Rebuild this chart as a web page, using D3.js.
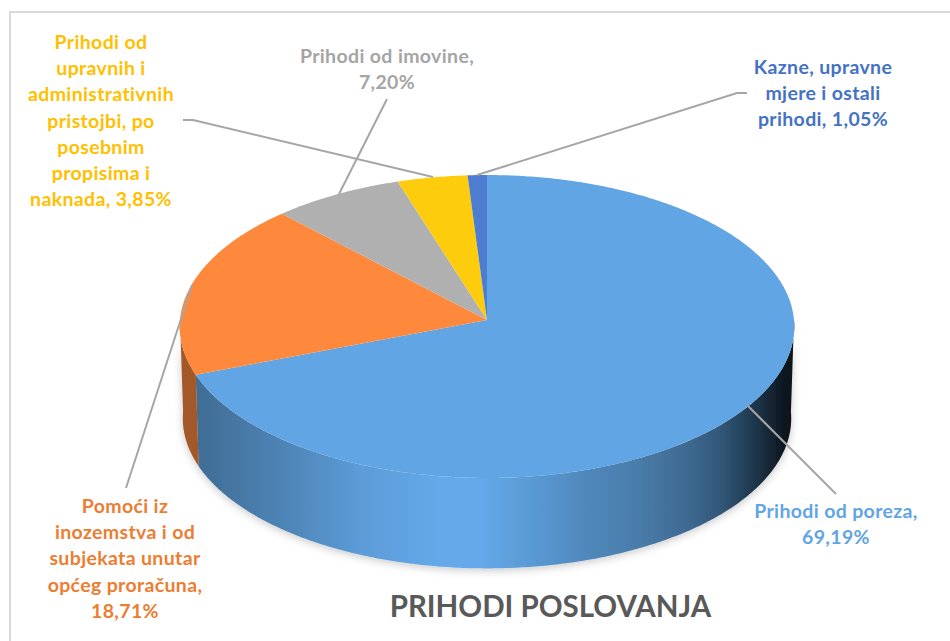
<!DOCTYPE html>
<html>
<head>
<meta charset="utf-8">
<script src="https://cdn.jsdelivr.net/npm/d3@7"></script>
<style>
html, body { margin: 0; padding: 0; background: #fff; }
svg { display: block; }
text { font-family: Lato, "Open Sans", sans-serif; font-weight: 700; }
</style>
</head>
<body>
<div id="chart"></div>
<script>
const wd = 950
const ht = 641

// the data
const categories = ["Prihodi od poreza", "Pomoći iz inozemstva i od subjekata unutar općeg proračuna", "Prihodi od imovine", "Prihodi od upravnih i administrativnih pristojbi, po posebnim propisima i naknada", "Kazne, upravne mjere i ostali prihodi"]
const values = [69.19, 18.71, 7.20, 3.85, 1.05]
const valueLabels = ["69,19%", "18,71%", "7,20%", "3,85%", "1,05%"]
const colours = ["#62a5e4", "#fe893c", "#b0b0b0", "#fdcc0d", "#4d7dd0"]
const labelColours = ["#62a5e4", "#ed7d31", "#a5a5a5", "#ffc000", "#4472c4"]
const titleText = "PRIHODI POSLOVANJA"

// label lines, wrapped by hand like in the picture
const labelLines = [
    ["Prihodi od poreza,", "69,19%"],
    ["Pomoći iz", "inozemstva i od", "subjekata unutar", "općeg proračuna,", "18,71%"],
    ["Prihodi od imovine,", "7,20%"],
    ["Prihodi od", "upravnih i", "administrativnih", "pristojbi, po", "posebnim", "propisima i", "naknada, 3,85%"],
    ["Kazne, upravne", "mjere i ostali", "prihodi, 1,05%"]
]
const labelCentres = [[836, 518], [125, 513], [387, 63], [101, 49], [823, 74]]
const leaders = [
    [[748, 406], [836, 494]],
    [[192, 285], [126, 488]],
    [[387, 99], [339, 194]],
    [[183, 120], [193, 120], [433, 177]],
    [[747, 93], [737, 93], [477, 175]]
]

const lineHt = 26.2

const svg = d3.select("#chart").append("svg")
    .attr("width", wd)
    .attr("height", ht)

const defs = svg.append("defs")

// frame of the picture, only top and left show
svg.append("path")
    .attr("d", d3.line()([[10, ht], [10, 12], [wd, 12]]))
    .attr("fill", "none")
    .attr("stroke", "#d9d9d9")
    .attr("stroke-width", 2)

// pie in perspective. c is the depth, +1 at the front
const cx = 487
const cy = 320
const rx = 307
const ryB = 151.2
const k = -0.0429
const depth = 92

function project(a, drop, shrink) {
    const s = Math.sin(a)
    const c = -Math.cos(a)
    const w = 1 + k * c
    return [cx + shrink * rx * s / w, cy + drop + shrink * ryB * c / w]
}

function arcPoints(a0, a1, drop, shrink) {
    const n = Math.max(2, Math.ceil(Math.abs(a1 - a0) / 0.01))
    return d3.range(n + 1).map(i => project(a0 + (a1 - a0) * i / n, drop, shrink))
}

const line = d3.line()

const slices = d3.pie().sort(null).value(d => d)(values)

// side gradient, left to right across the pie
const sideStops = [
    [195, "#3f6c93"], [300, "#5189bd"], [360, "#5b9bd7"], [440, "#65a9ea"],
    [480, "#65a9ea"], [530, "#5a9ad4"], [585, "#5088bc"], [635, "#4a7dab"],
    [685, "#3f6b92"], [720, "#32587a"], [750, "#213b52"], [785, "#0c161e"],
    [794, "#0a1219"]
]
const xFrac = d3.scaleLinear().domain([195, 794]).range([0, 1])

const blueSide = defs.append("linearGradient")
    .attr("id", "blueSide")
    .attr("gradientUnits", "userSpaceOnUse")
    .attr("x1", 195).attr("x2", 794).attr("y1", 0).attr("y2", 0)
blueSide.selectAll("stop").data(sideStops).enter().append("stop")
    .attr("offset", d => xFrac(d[0]))
    .attr("stop-color", d => d[1])

const shadow = defs.append("filter")
    .attr("id", "soft")
    .attr("x", "-5%").attr("y", "-5%").attr("width", "110%").attr("height", "115%")
shadow.append("feDropShadow")
    .attr("dx", 0).attr("dy", 2).attr("stdDeviation", 4)
    .attr("flood-color", "#000").attr("flood-opacity", 0.22)

const pieG = svg.append("g")

// sides, only the front half can be seen
const frontStart = Math.PI / 2
const frontEnd = 3 * Math.PI / 2

const sides = slices
    .map((d, i) => ({
        i: i,
        a0: Math.max(d.startAngle, frontStart),
        a1: Math.min(d.endAngle, frontEnd)
    }))
    .filter(d => d.a1 > d.a0)

pieG.append("g")
    .attr("filter", "url(#soft)")
    .selectAll("path")
    .data(sides)
    .enter()
    .append("path")
    .attr("d", d => {
        const topEdge = arcPoints(d.a0, d.a1, 0, 1)
        const lowEdge = arcPoints(d.a1, d.a0, depth, 0.99)
        return line(topEdge.concat(lowEdge)) + "Z"
    })
    .attr("fill", d => d.i == 0 ? "url(#blueSide)" : "#a3592a")

// top face
pieG.append("g")
    .selectAll("path")
    .data(slices)
    .enter()
    .append("path")
    .attr("d", d => line([[cx, cy]].concat(arcPoints(d.startAngle, d.endAngle, 0, 1))) + "Z")
    .attr("fill", (d, i) => colours[i])

// leader lines
svg.append("g")
    .selectAll("path")
    .data(leaders)
    .enter()
    .append("path")
    .attr("d", d => line(d))
    .attr("fill", "none")
    .attr("stroke", "#a6a6a6")
    .attr("stroke-width", 2)

// labels
const labels = svg.append("g")
    .selectAll("text")
    .data(categories)
    .enter()
    .append("text")
    .attr("text-anchor", "middle")
    .attr("font-size", 19.5)
    .attr("letter-spacing", 0.35)
    .attr("fill", (d, i) => labelColours[i])

labels.selectAll("tspan")
    .data((d, i) => labelLines[i].map((t, j) => ({ t: t, j: j, i: i })))
    .enter()
    .append("tspan")
    .attr("x", d => labelCentres[d.i][0])
    .attr("y", d => labelCentres[d.i][1] + d.j * lineHt)
    .text(d => d.t)

svg.append("text")
    .attr("x", 550.5)
    .attr("y", 617)
    .attr("text-anchor", "middle")
    .attr("font-size", 29.5)
    .attr("fill", "#595959")
    .text(titleText)
</script>
</body>
</html>
